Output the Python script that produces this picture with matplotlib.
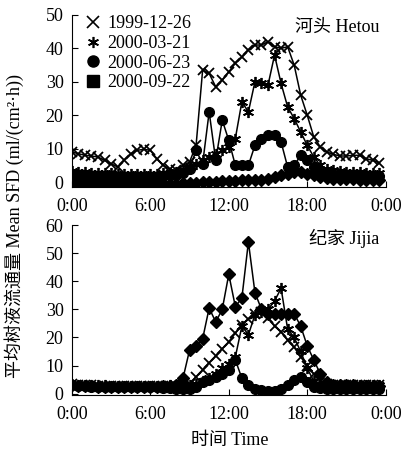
import numpy as np
import matplotlib
matplotlib.use("Agg")
import matplotlib.pyplot as plt
from matplotlib.lines import Line2D

plt.rcParams['font.family'] = ['Liberation Serif', 'Noto Sans CJK SC']
plt.rcParams['font.size'] = 13

# half-hourly readings, 0:00 .. 23:30
hours = np.arange(48) * 0.5

labels = ['1999-12-26', '2000-03-21', '2000-06-23', '2000-09-22']

# Hetou site
hetou_1226 = [9.0, 8.5, 8.0, 7.8, 7.5, 6.5, 5.5, 4.5, 6.5, 8.5, 9.5, 9.8, 9.5, 7.0, 5.0, 3.8,
              3.5, 5.0, 6.0, 11.0, 33.5, 32.5, 28.5, 30.5, 33.0, 35.5, 37.5, 39.5, 41.0, 41.0,
              42.0, 40.5, 40.0, 40.5, 35.0, 26.0, 20.0, 13.5, 10.5, 9.0, 8.3, 7.8, 7.8, 8.0,
              8.0, 7.0, 6.5, 5.8]
hetou_0321 = [3.2, 3.0, 3.0, 2.8, 2.8, 2.7, 2.6, 2.5, 2.5, 2.5, 2.4, 2.4, 2.5, 2.5, 2.6, 2.8,
              3.0, 3.5, 4.5, 5.5, 6.5, 7.5, 8.5, 9.5, 10.5, 13.0, 24.0, 21.0, 30.0, 29.5,
              29.0, 38.0, 29.5, 22.5, 19.0, 15.0, 11.0, 7.5, 5.0, 4.0, 3.5, 3.2, 3.0, 3.0,
              3.0, 2.8, 2.8, 2.6]
hetou_0623 = [2.0, 1.8, 1.8, 1.7, 1.6, 1.6, 1.5, 1.5, 1.5, 1.5, 1.5, 1.5, 1.6, 1.6, 1.8, 2.0,
              2.2, 2.8, 4.0, 9.5, 5.5, 21.0, 6.5, 18.5, 12.5, 5.0, 5.0, 5.0, 11.0, 13.0,
              14.0, 14.0, 12.0, 4.5, 5.0, 8.0, 6.5, 4.5, 3.0, 2.5, 2.2, 2.0, 2.0, 2.0,
              1.8, 1.8, 1.8, 1.8]
hetou_0922 = [-0.5, -0.6, -0.6, -0.5, -0.6, -0.6, -0.5, -0.6, -0.6, -0.5, -0.6, -0.6, -0.5,
              -0.6, -0.5, -0.5, -0.5, -0.4, -0.4, -0.3, 0.0, 0.0, 0.0, 0.2, 0.3, 0.3, 0.5,
              0.5, 0.5, 0.7, 1.0, 1.5, 2.0, 2.5, 3.0, 3.0, 2.5, 2.0, 1.5, 1.2, 1.0, 1.0,
              0.8, 0.8, 0.7, 0.5, 0.5, 0.5]

# Jijia site
jijia_1226 = [3.5, 3.2, 3.0, 3.0, 2.8, 2.8, 2.8, 2.7, 2.7, 2.7, 2.7, 2.7, 2.7, 2.8, 2.8, 2.8,
              2.8, 3.0, 3.5, 6.0, 8.5, 11.0, 13.5, 16.0, 18.5, 21.5, 24.5, 26.5, 28.5, 29.0,
              27.0, 24.0, 22.0, 19.0, 16.5, 13.0, 10.0, 7.0, 4.5, 3.5, 3.0, 3.0, 3.0, 3.0,
              3.0, 3.0, 3.0, 3.0]
jijia_0321 = [3.2, 3.0, 3.0, 3.0, 2.9, 2.9, 2.8, 2.8, 2.8, 2.8, 2.8, 2.8, 2.8, 2.8, 2.8, 2.9,
              3.0, 3.0, 3.2, 3.5, 4.5, 5.5, 7.0, 9.0, 10.5, 13.0, 24.0, 21.0, 28.0, 29.0,
              30.0, 33.0, 37.5, 23.0, 20.0, 15.0, 9.0, 4.5, 3.5, 3.0, 3.0, 3.0, 3.0, 3.0,
              3.0, 3.0, 3.0, 3.0]
jijia_0623 = [3.0, 2.8, 2.6, 2.5, 2.4, 2.4, 2.3, 2.3, 2.3, 2.3, 2.3, 2.2, 2.2, 2.2, 2.0, 2.0,
              1.8, 1.5, 1.5, 2.5, 4.0, 5.0, 6.0, 7.0, 8.5, 12.0, 5.5, 3.0, 1.8, 1.2,
              1.0, 1.0, 1.5, 3.0, 5.0, 6.0, 4.0, 2.5, 2.0, 1.8, 1.5, 1.5, 1.5, 1.5,
              1.5, 1.5, 1.5, 1.5]
jijia_0922 = [3.0, 2.8, 2.7, 2.6, 2.5, 2.5, 2.5, 2.4, 2.4, 2.4, 2.4, 2.4, 2.5, 2.5, 2.6, 2.8,
              3.2, 5.5, 15.5, 17.0, 19.5, 30.5, 25.5, 30.0, 42.5, 31.0, 34.0, 54.0, 36.0, 30.0,
              28.5, 28.5, 28.5, 28.5, 28.5, 24.0, 17.0, 12.0, 7.0, 4.0, 3.0, 3.0, 3.0, 3.0,
              2.8, 2.8, 2.8, 2.8]

xticks = [0, 6, 12, 18, 24]
xticklabels = ['0:00', '6:00', '12:00', '18:00', '0:00']

styles = [
    dict(marker='x', ms=7, mew=1.3),
    dict(marker=(6, 2, 0), ms=8, mew=1.3),
    dict(marker='o', ms=7),
    dict(marker='D', ms=6),
]

fig = plt.figure(figsize=(4.06, 4.53), dpi=100)
ax1 = fig.add_axes([0.177, 0.587, 0.773, 0.380])
ax2 = fig.add_axes([0.177, 0.128, 0.773, 0.375])

panels = [
    (ax1, [hetou_1226, hetou_0321, hetou_0623, hetou_0922], (-1.5, 50), range(0, 51, 10), '河头 Hetou'),
    (ax2, [jijia_1226, jijia_0321, jijia_0623, jijia_0922], (-0.5, 60), range(0, 61, 10), '纪家 Jijia'),
]

for ax, series, ylim, yt, title in panels:
    for vals, st in zip(series, styles):
        ax.plot(hours, vals, color='black', lw=1.1, mfc='black', mec='black', **st)
    ax.set_xlim(0, 24)
    ax.set_ylim(*ylim)
    ax.set_yticks(list(yt))
    ax.set_xticks(xticks)
    ax.set_xticklabels(xticklabels)
    ax.tick_params(direction='in', length=4, width=0.8)
    ax.tick_params(axis='x', pad=8)
    ax.tick_params(axis='y', pad=6)
    for s in ['top', 'right']:
        ax.spines[s].set_visible(False)
    ax.text(0.98, 0.98, title, transform=ax.transAxes, ha='right', va='top')

handles = [
    Line2D([], [], color='black', ls='none', marker='x', ms=8, mew=1.2),
    Line2D([], [], color='black', ls='none', marker=(6, 2, 0), ms=8, mew=1.2),
    Line2D([], [], color='black', ls='none', marker='o', ms=8),
    Line2D([], [], color='black', ls='none', marker='s', ms=8),
]
ax1.legend(handles, labels, loc='upper left', bbox_to_anchor=(0.02, 1.04), frameon=False,
           handlelength=0.8, handletextpad=0.4, labelspacing=0.15, borderaxespad=0)

fig.text(0.035, 0.5, '平均树液流通量 Mean SFD (ml/(cm²·h))', rotation=90,
         ha='center', va='center')
fig.text(0.565, 0.028, '时间 Time', ha='center', va='center')

fig.savefig('out.png', dpi=100)
